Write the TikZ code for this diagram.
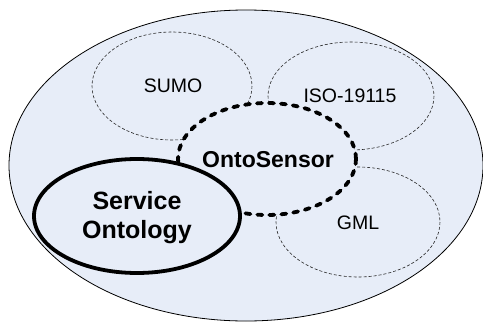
\documentclass[tikz,border=0pt]{standalone}
\usepackage{fontspec}
\setmainfont{Liberation Sans}
\definecolor{zonefill}{HTML}{E7EDF8}
\begin{document}
\begin{tikzpicture}[x=1pt,y=-1pt,
  outerzone/.style={draw=black,line width=0.8pt,fill=zonefill},
  partzone/.style={draw=black!85,line width=0.6pt,dash pattern=on 3pt off 2pt},
  corezone/.style={draw=black,fill=zonefill,line width=3.8pt,line cap=round,dash pattern=on 5pt off 7pt},
  servicezone/.style={draw=black,fill=zonefill,line width=3.8pt},
  lbl/.style={font=\fontsize{19.5}{22}\selectfont},
  olbl/.style={font=\bfseries\fontsize{23}{27}\selectfont},
  slbl/.style={font=\bfseries\fontsize{25}{29}\selectfont,align=center}]
\useasboundingbox (0,0) rectangle (483,322);
% outer domain
\draw[outerzone] (246,165.5) ellipse [x radius=237, y radius=155.5];
% related ontologies
\draw[partzone] (172,86) ellipse [x radius=80, y radius=54];
\draw[partzone] (351,96) ellipse [x radius=83, y radius=54];
\draw[partzone] (358,222) ellipse [x radius=82, y radius=55];
\node[lbl] (sumo) at (173,86) {SUMO};
\node[lbl] (iso) at (350,96) {ISO-19115};
\node[lbl] (gml) at (358,223) {GML};
% central ontology
\draw[corezone] (267,159) ellipse [x radius=89, y radius=56];
\node[olbl] (onto) at (268,160) {OntoSensor};
% service ontology
\draw[servicezone] (137,216) ellipse [x radius=103, y radius=57];
\node[slbl] (serv) at (137,218) {Service\\Ontology};
\end{tikzpicture}
\end{document}
